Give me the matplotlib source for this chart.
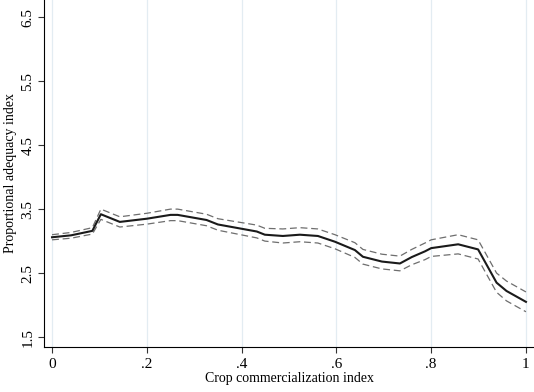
import matplotlib
matplotlib.use("Agg")
import matplotlib.pyplot as plt

plt.rcParams['font.family'] = ['Liberation Serif', 'DejaVu Serif']

# crop commercialization index and fitted proportional adequacy index (with 95% CI)
cci = [0.0, 0.04, 0.085, 0.103, 0.143, 0.2, 0.25, 0.265, 0.326, 0.35, 0.432, 0.449,
       0.487, 0.523, 0.561, 0.597, 0.639, 0.656, 0.696, 0.734, 0.759, 0.787, 0.80,
       0.857, 0.899, 0.938, 0.959, 1.0]
pai = [3.06, 3.09, 3.16, 3.42, 3.30, 3.35, 3.41, 3.41, 3.33, 3.26, 3.15, 3.10,
       3.08, 3.10, 3.08, 2.99, 2.86, 2.755, 2.68, 2.65, 2.75, 2.84, 2.89,
       2.95, 2.87, 2.35, 2.22, 2.05]
ci_low = [3.02, 3.045, 3.11, 3.34, 3.22, 3.265, 3.32, 3.32, 3.24, 3.17, 3.05, 3.00,
          2.97, 2.99, 2.97, 2.88, 2.745, 2.64, 2.565, 2.535, 2.63, 2.71, 2.76,
          2.80, 2.72, 2.20, 2.065, 1.895]
ci_high = [3.10, 3.135, 3.21, 3.50, 3.38, 3.435, 3.50, 3.50, 3.42, 3.35, 3.25, 3.20,
           3.19, 3.21, 3.19, 3.10, 2.975, 2.87, 2.795, 2.765, 2.87, 2.97, 3.02,
           3.10, 3.02, 2.50, 2.375, 2.205]

xticks = [0, 0.2, 0.4, 0.6, 0.8, 1.0]
xticklabels = ["0", ".2", ".4", ".6", ".8", "1"]
yticks = [1.5, 2.5, 3.5, 4.5, 5.5, 6.5]


def main():
    fig = plt.figure(figsize=(5.34, 3.92), dpi=100)
    ax = fig.add_axes([0.0824, 0.1148, 0.9176, 0.8852])

    for x in xticks:
        ax.axvline(x, color="#e3ecf2", lw=0.9, zorder=0)

    ax.plot(cci, ci_high, color="#6e6e6e", lw=0.9, ls=(0, (5.5, 3)))
    ax.plot(cci, ci_low, color="#6e6e6e", lw=0.9, ls=(0, (5.5, 3)))
    ax.plot(cci, pai, color="#1a1a1a", lw=1.5)

    ax.set_xlim(-0.017, 1.017)
    ax.set_ylim(1.344, 6.77)
    ax.set_xticks(xticks)
    ax.set_xticklabels(xticklabels)
    ax.set_yticks(yticks)
    ax.set_yticklabels([str(v) for v in yticks], rotation=90, va="center")
    ax.tick_params(labelsize=11, length=4.5, width=0.8, color="#333333")
    ax.tick_params(axis="y", pad=2.5)

    ax.spines["top"].set_visible(False)
    ax.spines["right"].set_visible(False)
    ax.spines["left"].set_linewidth(0.8)
    ax.spines["bottom"].set_linewidth(0.8)

    ax.set_xlabel("Crop commercialization index", fontsize=10, labelpad=1)
    ax.set_ylabel("Proportional adequacy index", fontsize=10, labelpad=3)

    fig.savefig("out.png", dpi=100)


if __name__ == "__main__":
    main()
